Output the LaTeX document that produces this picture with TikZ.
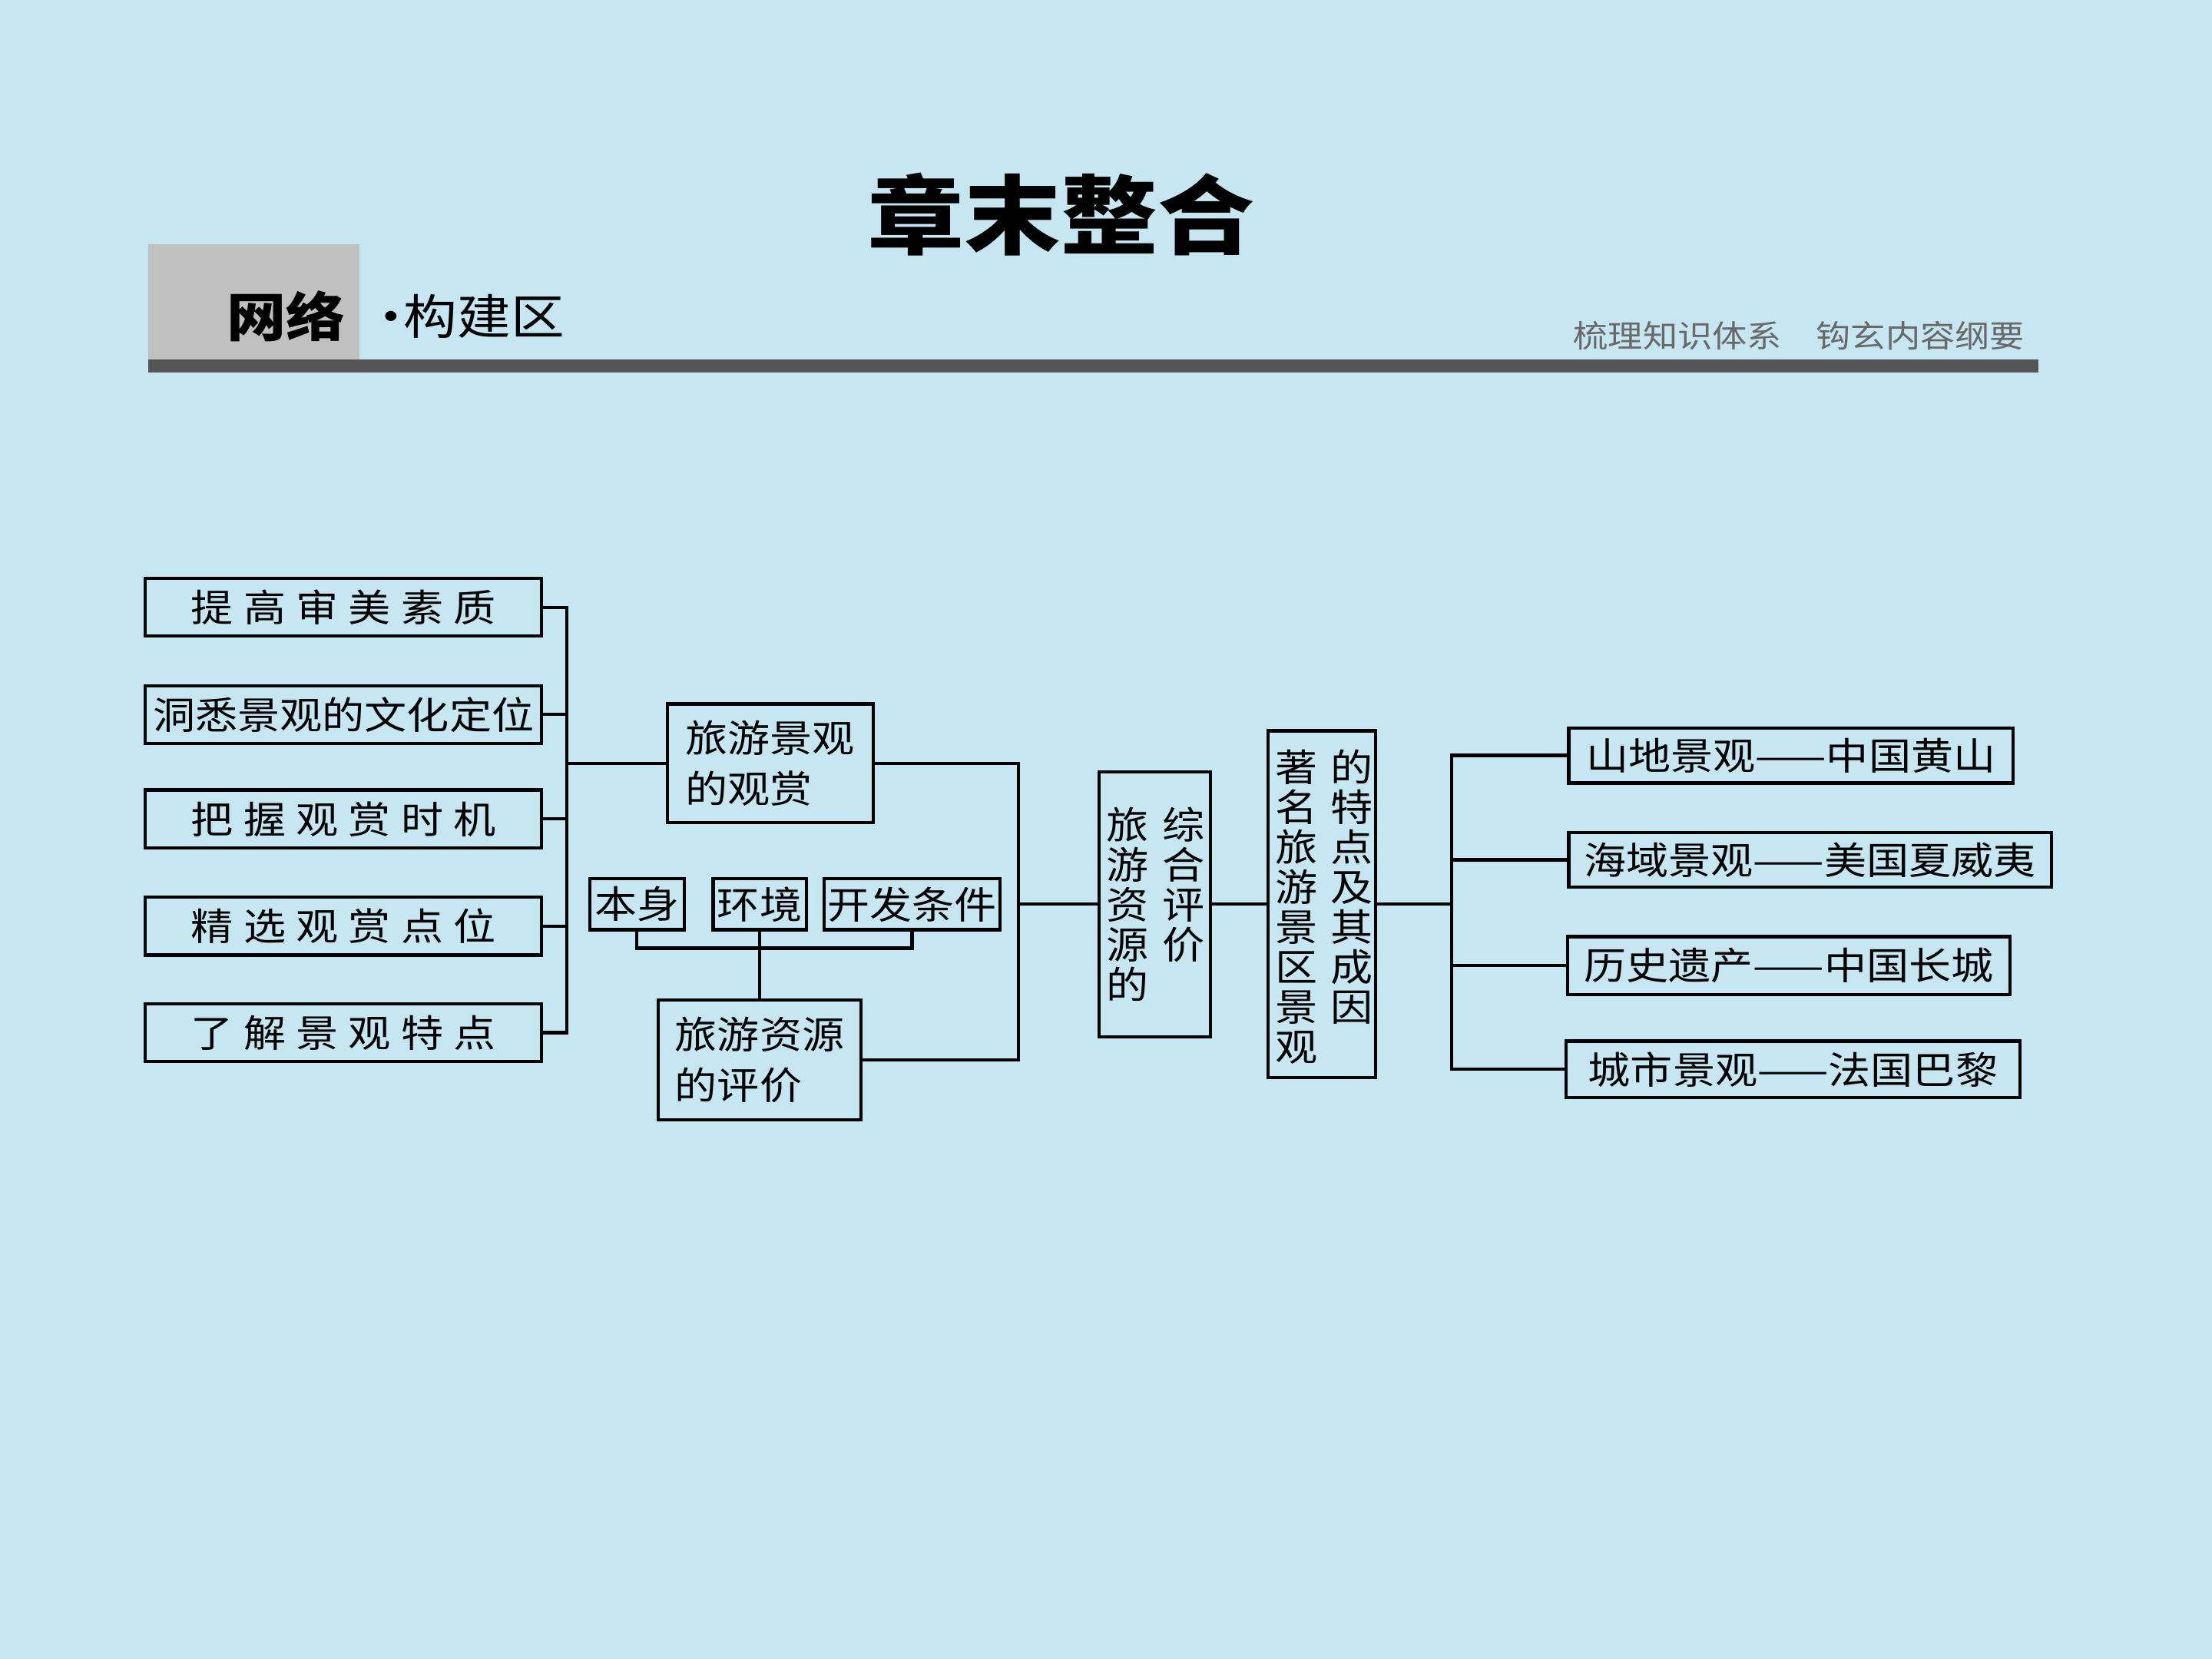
\documentclass[tikz,border=0pt]{standalone}
\usepackage{fontspec}
\setmainfont{Noto Sans CJK SC}[FakeStretch=1.12]
\usetikzlibrary{positioning}
\definecolor{myBack}{RGB}{198,230,241}
\definecolor{myGray}{RGB}{192,192,192}
\definecolor{myDark}{RGB}{85,85,85}
\definecolor{mySub}{RGB}{105,105,105}
\newcommand{\sgap}{\hspace{0.27em}}

\begin{document}
\begin{tikzpicture}[x=0.18367mm,y=-0.18367mm,
		box/.style={draw=black,line width=1.2pt,inner sep=0pt,font=\fontsize{14pt}{18.8pt}\selectfont},
		sz/.style 2 args={minimum width=#1*0.18367mm,minimum height=#2*0.18367mm},
		vcol/.style={inner sep=0pt,align=center,anchor=north,font=\fontsize{14pt}{14.8pt}\selectfont},
		link/.style={black,line width=1.2pt}]
		\fill[myBack] (0,0) rectangle (1568,1176);
		\useasboundingbox (0,0) rectangle (1568,1176);
		
		\begin{scope}
			\node[font=\fontsize{32pt}{32pt}\selectfont\bfseries] (title) at (752,152) {章末整合};
			\fill[myGray] (105,173) rectangle (255,255);
			\fill[myDark] (105,255) rectangle (1445,264);
			\node[font=\fontsize{19.6pt}{20pt}\selectfont\bfseries] (wl) at (203,224) {网络};
			\node[right=0pt of wl,font=\fontsize{17.7pt}{18pt}\selectfont] (gj) {·\hspace{-0.3em}构建区};
			\node[anchor=east,text=mySub,font=\fontsize{11.5pt}{12pt}\selectfont] (sub) at (1442,238) {梳理知识体系\hspace{1.1em}钩玄内容纲要};
		\end{scope}
		
		\begin{scope}
			\node[box,sz={281}{41}] (q1) at (243.5,430.5) {提\sgap 高\sgap 审\sgap 美\sgap 素\sgap 质};
			\node[box,sz={281}{41}] (q2) at (243.5,506.5) {洞悉景观的文化定位};
			\node[box,sz={281}{41}] (q3) at (243.5,580.5) {把\sgap 握\sgap 观\sgap 赏\sgap 时\sgap 机};
			\node[box,sz={281}{41}] (q4) at (243.5,656.5) {精\sgap 选\sgap 观\sgap 赏\sgap 点\sgap 位};
			\node[box,sz={281}{41}] (q5) at (243.5,732) {了\sgap 解\sgap 景\sgap 观\sgap 特\sgap 点};
			\coordinate (jl) at (402,541);
			\foreach \i in {1,...,5}
				\draw[link] (q\i.east) -| (jl);
			
			\node[box,sz={146}{84},align=left] (g1) at (546,541) {旅游景观\\的观赏};
			\draw[link] (jl) -- (g1.west);
			
			\node[box,sz={67}{36}] (bs) at (451.5,641) {本身};
			\node[box,sz={66}{36}] (hj) at (538.5,641) {环境};
			\node[box,sz={125}{36}] (kf) at (646.5,641) {开发条件};
			\node[box,sz={144}{85},align=left] (g2) at (538.5,751.5) {旅游资源\\的评价};
			\draw[link] (bs.south) -- ++(0,12) -| (kf.south);
			\draw[link] (hj.south) -- (g2.north);
		\end{scope}
		
		\begin{scope}
			\coordinate (jm) at (722,641);
			\draw[link] (g1.east) -| (jm);
			\draw[link] (g2.east) -| (jm);
			
			\node[box,sz={79}{188}] (zh) at (818.5,641) {};
			\node[vcol] (zhL) at (799,572) {旅\\游\\资\\源\\的};
			\node[vcol] (zhR) at (839,572) {综\\合\\评\\价};
			\draw[link] (jm) -- (zh.west);
			
			\node[box,sz={76}{246}] (zm) at (937,641) {};
			\node[vcol] (zmL) at (919,531) {著\\名\\旅\\游\\景\\区\\景\\观};
			\node[vcol] (zmR) at (958,531) {的\\特\\点\\及\\其\\成\\因};
			\draw[link] (zh.east) -- (zm.west);
		\end{scope}
		
		\begin{scope}
			\node[box,sz={315}{39}] (r1) at (1269.5,535.5) {山地景观——中国黄山};
			\node[box,sz={342}{39}] (r2) at (1283,609.5) {海域景观——美国夏威夷};
			\node[box,sz={314}{41}] (r3) at (1268,684.5) {历史遗产——中国长城};
			\node[box,sz={322}{40}] (r4) at (1271,758) {城市景观——法国巴黎};
			\coordinate (jr) at (1029,641);
			\draw[link] (zm.east) -- (jr);
			\foreach \i in {1,...,4}
				\draw[link] (jr) |- (r\i.west);
		\end{scope}
	\end{tikzpicture}
\end{document}
